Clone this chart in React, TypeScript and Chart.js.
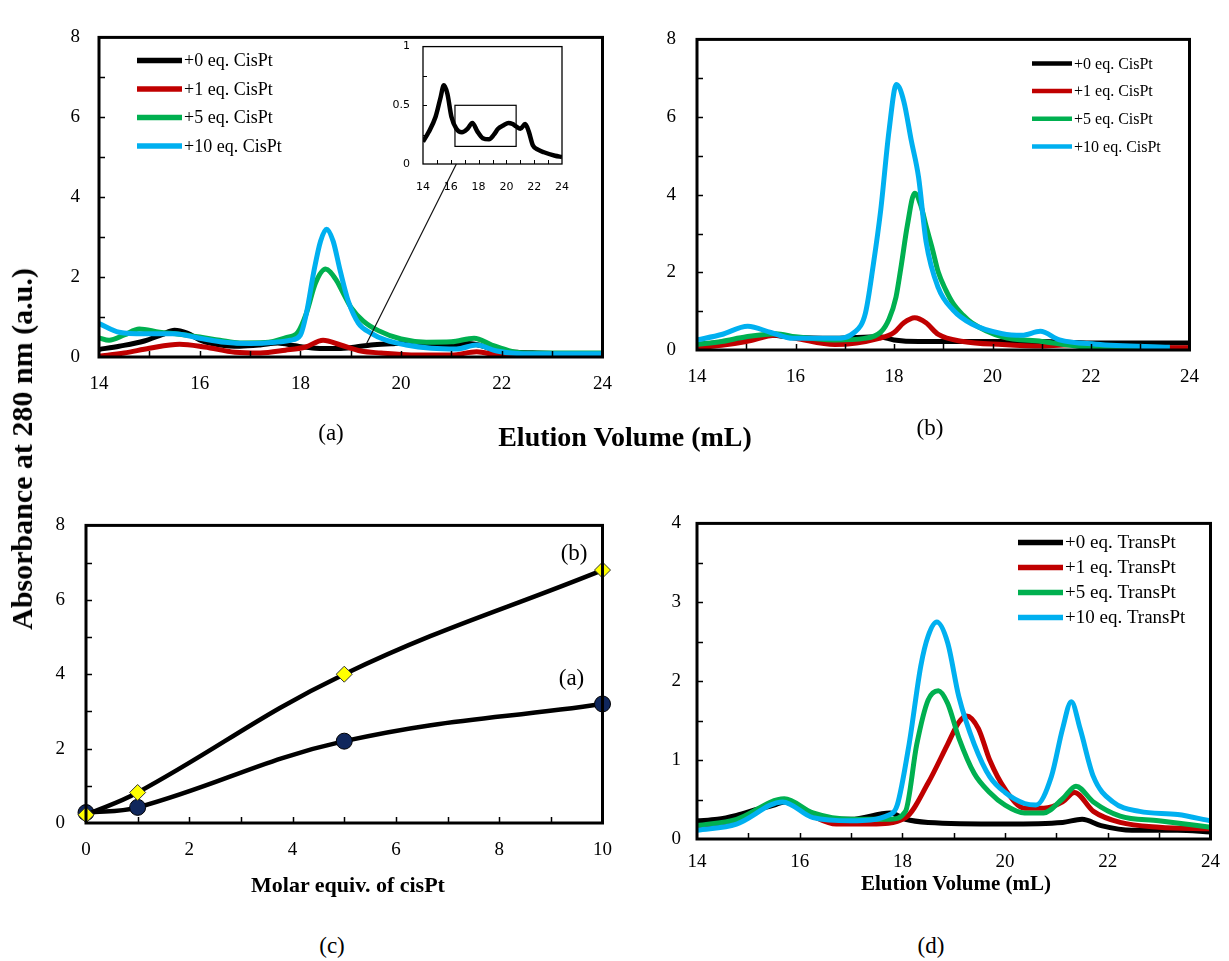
import React, { useEffect, useRef } from 'react';
import { Chart, registerables } from 'chart.js';

Chart.register(...registerables);

// ---------------- data ----------------
const COLORS = ['#000000', '#c00000', '#00b050', '#00b0f0'];
const CIS_LABELS = ['+0 eq. CisPt', '+1 eq. CisPt', '+5 eq. CisPt', '+10 eq. CisPt'];
const TRANS_LABELS = ['+0 eq. TransPt', '+1 eq. TransPt', '+5 eq. TransPt', '+10 eq. TransPt'];

// Panel (a) – +0 eq. trace is also the inset trace
const A0_X = [14, 14.4, 14.9, 15.25, 15.5, 15.75, 16.05, 16.4, 16.8, 17.2, 17.55, 17.9, 18.3, 18.75, 19.1, 19.4, 19.8, 20.15, 20.45, 20.7, 21.0, 21.35, 21.6, 21.9, 22.3, 22.7, 23.5, 24];
const A0_Y = [0.19, 0.27, 0.4, 0.56, 0.67, 0.6, 0.4, 0.3, 0.27, 0.3, 0.35, 0.28, 0.22, 0.21, 0.25, 0.3, 0.33, 0.35, 0.34, 0.32, 0.3, 0.34, 0.28, 0.16, 0.12, 0.1, 0.07, 0.06];
const A1_X = [14, 14.5, 15.0, 15.6, 16.1, 16.7, 17.2, 17.7, 18.1, 18.45, 18.8, 19.2, 19.6, 20.2, 21.0, 21.5, 21.9, 22.4, 24];
const A1_Y = [0.02, 0.1, 0.22, 0.32, 0.25, 0.12, 0.1, 0.17, 0.25, 0.42, 0.3, 0.15, 0.1, 0.05, 0.05, 0.13, 0.05, 0.01, 0.01];
const A5_X = [14, 14.2, 14.5, 14.8, 15.2, 15.6, 16.0, 16.4, 16.8, 17.3, 17.7, 17.95, 18.12, 18.3, 18.5, 18.7, 18.85, 19.0, 19.25, 19.55, 20.0, 20.5, 21.0, 21.45, 21.8, 22.2, 22.6, 24];
const A5_Y = [0.48, 0.42, 0.55, 0.7, 0.62, 0.57, 0.5, 0.42, 0.35, 0.36, 0.48, 0.62, 1.1, 1.85, 2.2, 1.95, 1.6, 1.25, 0.9, 0.66, 0.45, 0.37, 0.38, 0.47, 0.3, 0.14, 0.1, 0.1];
const A10_X = [14, 14.4, 14.9, 15.5, 16.0, 16.5, 17.0, 17.5, 17.8, 18.0, 18.12, 18.27, 18.4, 18.52, 18.65, 18.79, 18.95, 19.15, 19.4, 19.7, 20.1, 20.6, 21.1, 21.5, 21.9, 22.3, 23.0, 24];
const A10_Y = [0.84, 0.62, 0.58, 0.58, 0.47, 0.37, 0.34, 0.37, 0.42, 0.55, 1.1, 2.16, 2.9, 3.2, 2.9, 2.16, 1.4, 0.85, 0.6, 0.42, 0.3, 0.22, 0.2, 0.3, 0.15, 0.09, 0.08, 0.08];

// Panel (b)
const B0_X = [14, 14.5, 15.0, 15.5, 16.0, 16.8, 17.7, 18.0, 18.5, 19.5, 21.0, 22.0, 24];
const B0_Y = [0.14, 0.2, 0.3, 0.38, 0.32, 0.3, 0.34, 0.26, 0.22, 0.22, 0.22, 0.18, 0.18];
const B1_X = [14, 14.5, 15.0, 15.6, 16.0, 16.8, 17.7, 18.0, 18.2, 18.42, 18.65, 18.9, 19.4, 20.2, 21.0, 21.7, 22.5, 24];
const B1_Y = [0.06, 0.12, 0.22, 0.38, 0.3, 0.14, 0.3, 0.45, 0.7, 0.83, 0.7, 0.4, 0.22, 0.14, 0.1, 0.14, 0.06, 0.06];
const B5_X = [14, 14.5, 15.0, 15.6, 16.0, 16.8, 17.4, 17.73, 17.9, 18.04, 18.15, 18.27, 18.42, 18.55, 18.65, 18.78, 18.9, 19.05, 19.2, 19.4, 19.58, 20.2, 21.0, 21.7, 22.5, 23.6];
const B5_Y = [0.14, 0.22, 0.34, 0.42, 0.34, 0.26, 0.3, 0.46, 0.8, 1.36, 2.2, 3.2, 4.04, 3.7, 3.2, 2.6, 2.0, 1.55, 1.2, 0.9, 0.7, 0.34, 0.22, 0.1, 0.03, 0.03];
const B10_X = [14, 14.5, 15.03, 15.5, 15.95, 16.8, 17.2, 17.42, 17.58, 17.73, 17.9, 18.05, 18.2, 18.35, 18.5, 18.65, 18.9, 19.2, 19.58, 20.2, 20.6, 20.97, 21.36, 22.1, 23.6];
const B10_Y = [0.26, 0.4, 0.61, 0.45, 0.3, 0.3, 0.46, 0.95, 2.2, 3.6, 5.66, 6.84, 6.4, 5.4, 4.44, 2.8, 1.6, 1.03, 0.67, 0.42, 0.38, 0.48, 0.26, 0.15, 0.07];

// Panel (c)
const C_X = [0, 1, 5, 10];
const C_A = [0.28, 0.42, 2.2, 3.2];
const C_B = [0.22, 0.82, 4.0, 6.8];
const C_NOTE_TEXT = ['(b)', '(a)'];
const C_NOTE_X = [9.45, 9.4];
const C_NOTE_Y = [7.24, 3.86];

// Panel (d)
const D0_X = [14, 14.4, 14.77, 15.2, 15.5, 15.7, 16.26, 17.0, 17.76, 18.06, 18.5, 20.0, 21.12, 21.5, 21.87, 22.47, 23.36, 24];
const D0_Y = [0.23, 0.25, 0.3, 0.38, 0.43, 0.47, 0.29, 0.25, 0.33, 0.25, 0.21, 0.19, 0.21, 0.25, 0.17, 0.11, 0.11, 0.09];
const D1_X = [14, 14.77, 15.7, 16.26, 16.71, 17.39, 18.06, 18.5, 18.88, 19.1, 19.25, 19.48, 19.7, 20.0, 20.38, 20.75, 21.12, 21.35, 21.72, 22.24, 23.0, 24];
const D1_Y = [0.13, 0.22, 0.49, 0.29, 0.19, 0.19, 0.27, 0.71, 1.2, 1.48, 1.56, 1.4, 1.0, 0.63, 0.39, 0.39, 0.47, 0.59, 0.35, 0.21, 0.15, 0.13];
const D5_X = [14, 14.77, 15.7, 16.26, 17.0, 17.76, 18.06, 18.28, 18.5, 18.7, 18.88, 19.1, 19.4, 19.7, 20.0, 20.38, 20.75, 21.12, 21.38, 21.72, 22.24, 22.99, 24];
const D5_Y = [0.17, 0.25, 0.51, 0.33, 0.25, 0.25, 0.35, 1.2, 1.76, 1.88, 1.72, 1.28, 0.83, 0.59, 0.43, 0.33, 0.33, 0.51, 0.67, 0.47, 0.29, 0.23, 0.15];
const D10_X = [14, 14.77, 15.67, 16.26, 17.0, 17.76, 17.9, 18.13, 18.36, 18.5, 18.67, 18.88, 19.1, 19.4, 19.7, 20.0, 20.38, 20.6, 20.9, 21.12, 21.29, 21.46, 21.72, 22.1, 22.62, 23.36, 24];
const D10_Y = [0.11, 0.19, 0.47, 0.27, 0.23, 0.31, 0.43, 1.2, 2.2, 2.57, 2.75, 2.49, 1.8, 1.2, 0.79, 0.59, 0.45, 0.43, 0.79, 1.4, 1.74, 1.4, 0.79, 0.47, 0.35, 0.31, 0.23];

// Inset annotations
const INSET_RECT_X = [16.3, 20.7];
const INSET_RECT_Y = [0.15, 0.5];
const CONNECTOR_FROM = [19.3, 0.3];
const CONNECTOR_TO = [16.4, 0];

// ---------------- layout (styles) ----------------
type Box = { L: number; T: number; R: number; B: number };
const BOX_A: Box = { L: 99, T: 21, R: 612, B: 357 };
const BOX_B: Box = { L: 697, T: 21, R: 1199, B: 350 };
const BOX_C: Box = { L: 86, T: 507, R: 612, B: 823 };
const BOX_D: Box = { L: 697, T: 510, R: 1216, B: 839 };
const BOX_IN: Box = { L: 423, T: 35, R: 578, B: 164 };

const SERIF = "'Liberation Serif', 'Times New Roman', serif";

type Pad = { l: number; t: number; r: number; b: number };
const PAD_MAIN: Pad = { l: 80, t: 14, r: 16, b: 70 };
const PAD_INSET: Pad = { l: 45, t: 8, r: 8, b: 35 };

function rectOf(b: Box, p: Pad) {
  return { left: b.L - p.l, top: b.T - p.t, width: b.R - b.L + p.l + p.r, height: b.B - b.T + p.t + p.b };
}

function pts(xs: number[], ys: number[]) {
  return xs.map((x, i) => ({ x, y: ys[i] }));
}

function series(xs: number[], ys: number[], idx: number, labels: string[], width = 5) {
  return {
    label: labels[idx],
    data: pts(xs, ys),
    borderColor: COLORS[idx],
    backgroundColor: COLORS[idx],
    borderWidth: width,
    pointRadius: 0,
    tension: 0.4,
    cubicInterpolationMode: 'monotone',
    fill: false,
    order: 3 - idx,
  };
}

function framePlugin(cfg: { lw: number; tickLen: number; xMinor: number; yMinor: number; tickW: number }) {
  return {
    id: 'frame',
    afterDatasetsDraw(chart: any) {
      const { ctx, chartArea: a, scales } = chart;
      ctx.save();
      ctx.strokeStyle = '#000';
      ctx.lineWidth = cfg.lw;
      ctx.strokeRect(a.left, a.top, a.right - a.left, a.bottom - a.top);
      ctx.lineWidth = cfg.tickW;
      ctx.beginPath();
      const xs = scales.x, ys = scales.y;
      for (let v = xs.min + cfg.xMinor; v < xs.max - 1e-9; v += cfg.xMinor) {
        const p = Math.round(xs.getPixelForValue(v)) + 0.5;
        ctx.moveTo(p, a.bottom);
        ctx.lineTo(p, a.bottom - cfg.tickLen);
      }
      for (let v = ys.min + cfg.yMinor; v < ys.max - 1e-9; v += cfg.yMinor) {
        const p = Math.round(ys.getPixelForValue(v)) + 0.5;
        ctx.moveTo(a.left, p);
        ctx.lineTo(a.left + cfg.tickLen, p);
      }
      ctx.stroke();
      ctx.restore();
    },
  };
}

function legendPlugin(cfg: { x1: number; x2: number; tx: number; y0: number; step: number; font: string; lw: number }) {
  return {
    id: 'customLegend',
    afterDraw(chart: any) {
      const { ctx, chartArea: a } = chart;
      ctx.save();
      chart.data.datasets.forEach((ds: any, i: number) => {
        const y = a.top + cfg.y0 + i * cfg.step;
        ctx.strokeStyle = ds.borderColor;
        ctx.lineWidth = cfg.lw;
        ctx.lineCap = 'butt';
        ctx.beginPath();
        ctx.moveTo(a.left + cfg.x1, y);
        ctx.lineTo(a.left + cfg.x2, y);
        ctx.stroke();
        ctx.fillStyle = '#000';
        ctx.font = cfg.font;
        ctx.textBaseline = 'middle';
        ctx.textAlign = 'left';
        ctx.fillText(ds.label, a.left + cfg.tx, y + 1);
      });
      ctx.restore();
    },
  };
}

function axisOptions(o: {
  xMin: number; xMax: number; xStep: number; yMin: number; yMax: number; yStep: number;
  pad: Pad; font: any; xPad: number; yPad: number;
}) {
  const fmt = (v: any) => String(Math.round(Number(v) * 100) / 100);
  return {
    responsive: false,
    maintainAspectRatio: false,
    animation: false,
    events: [],
    layout: { padding: { left: 0, top: o.pad.t, right: o.pad.r, bottom: 0 } },
    plugins: { legend: { display: false }, tooltip: { enabled: false }, title: { display: false } },
    scales: {
      x: {
        type: 'linear',
        min: o.xMin,
        max: o.xMax,
        grid: { display: false, drawTicks: false },
        border: { display: false },
        ticks: { stepSize: o.xStep, autoSkip: false, maxRotation: 0, minRotation: 0, color: '#000', font: o.font, padding: o.xPad, callback: fmt },
        afterFit: (s: any) => { s.height = o.pad.b; },
      },
      y: {
        type: 'linear',
        min: o.yMin,
        max: o.yMax,
        grid: { display: false, drawTicks: false },
        border: { display: false },
        ticks: { stepSize: o.yStep, autoSkip: false, color: '#000', font: o.font, padding: o.yPad, callback: fmt },
        afterFit: (s: any) => { s.width = o.pad.l; },
      },
    },
  };
}

const TICK_FONT = { family: SERIF, size: 19 };

export default function App() {
  const refA = useRef<HTMLCanvasElement>(null);
  const refIn = useRef<HTMLCanvasElement>(null);
  const refB = useRef<HTMLCanvasElement>(null);
  const refC = useRef<HTMLCanvasElement>(null);
  const refD = useRef<HTMLCanvasElement>(null);

  const rA = rectOf(BOX_A, PAD_MAIN);
  const rB = rectOf(BOX_B, PAD_MAIN);
  const rC = rectOf(BOX_C, PAD_MAIN);
  const rD = rectOf(BOX_D, PAD_MAIN);
  const rIn = rectOf(BOX_IN, PAD_INSET);

  useEffect(() => {
    const charts: Chart[] = [];

    // ---------- inset ----------
    const insetRect = {
      id: 'insetRect',
      afterDatasetsDraw(chart: any) {
        const { ctx, scales } = chart;
        const x0 = scales.x.getPixelForValue(INSET_RECT_X[0]);
        const x1 = scales.x.getPixelForValue(INSET_RECT_X[1]);
        const y0 = scales.y.getPixelForValue(INSET_RECT_Y[0]);
        const y1 = scales.y.getPixelForValue(INSET_RECT_Y[1]);
        ctx.save();
        ctx.strokeStyle = '#000';
        ctx.lineWidth = 1.2;
        ctx.strokeRect(x0, y1, x1 - x0, y0 - y1);
        ctx.restore();
      },
    };
    const inset = new Chart(refIn.current as HTMLCanvasElement, {
      type: 'line',
      data: { datasets: [series(A0_X, A0_Y, 0, CIS_LABELS, 4.5)] as any },
      options: axisOptions({
        xMin: 14, xMax: 24, xStep: 2, yMin: 0, yMax: 1, yStep: 0.5,
        pad: PAD_INSET, font: { family: "'DejaVu Sans', sans-serif", size: 11 }, xPad: 17, yPad: 13,
      }) as any,
      plugins: [framePlugin({ lw: 1.3, tickLen: 4, xMinor: 1, yMinor: 0.25, tickW: 1 }), insetRect],
    });

    // ---------- panel (a) ----------
    const connector = {
      id: 'connector',
      afterDatasetsDraw(chart: any) {
        const { ctx, scales } = chart;
        const x0 = scales.x.getPixelForValue(CONNECTOR_FROM[0]);
        const y0 = scales.y.getPixelForValue(CONNECTOR_FROM[1]);
        const x1 = inset.scales.x.getPixelForValue(CONNECTOR_TO[0]) + rIn.left - rA.left;
        const y1 = inset.scales.y.getPixelForValue(CONNECTOR_TO[1]) + rIn.top - rA.top;
        ctx.save();
        ctx.strokeStyle = '#111';
        ctx.lineWidth = 1.2;
        ctx.beginPath();
        ctx.moveTo(x0, y0);
        ctx.lineTo(x1, y1);
        ctx.stroke();
        ctx.restore();
      },
    };
    charts.push(new Chart(refA.current as HTMLCanvasElement, {
      type: 'line',
      data: {
        datasets: [
          series(A0_X, A0_Y, 0, CIS_LABELS),
          series(A1_X, A1_Y, 1, CIS_LABELS),
          series(A5_X, A5_Y, 2, CIS_LABELS),
          series(A10_X, A10_Y, 3, CIS_LABELS),
        ] as any,
      },
      options: axisOptions({
        xMin: 14, xMax: 24, xStep: 2, yMin: 0, yMax: 8, yStep: 2,
        pad: PAD_MAIN, font: TICK_FONT, xPad: 16, yPad: 19,
      }) as any,
      plugins: [
        framePlugin({ lw: 3, tickLen: 6, xMinor: 1, yMinor: 1, tickW: 1.5 }),
        connector,
        legendPlugin({ x1: 38, x2: 83, tx: 85, y0: 23, step: 28.5, font: `18px ${SERIF}`, lw: 5.5 }),
      ],
    }));
    charts.push(inset);

    // ---------- panel (b) ----------
    charts.push(new Chart(refB.current as HTMLCanvasElement, {
      type: 'line',
      data: {
        datasets: [
          series(B0_X, B0_Y, 0, CIS_LABELS),
          series(B1_X, B1_Y, 1, CIS_LABELS),
          series(B5_X, B5_Y, 2, CIS_LABELS),
          series(B10_X, B10_Y, 3, CIS_LABELS),
        ] as any,
      },
      options: axisOptions({
        xMin: 14, xMax: 24, xStep: 2, yMin: 0, yMax: 8, yStep: 2,
        pad: PAD_MAIN, font: TICK_FONT, xPad: 16, yPad: 21,
      }) as any,
      plugins: [
        framePlugin({ lw: 3, tickLen: 6, xMinor: 1, yMinor: 1, tickW: 1.5 }),
        legendPlugin({ x1: 335, x2: 375, tx: 377, y0: 24, step: 27.7, font: `16px ${SERIF}`, lw: 4.5 }),
      ],
    }));

    // ---------- panel (c) ----------
    const notes = {
      id: 'notes',
      afterDatasetsDraw(chart: any) {
        const { ctx, scales } = chart;
        ctx.save();
        ctx.fillStyle = '#000';
        ctx.font = `23px ${SERIF}`;
        ctx.textAlign = 'center';
        ctx.textBaseline = 'middle';
        C_NOTE_TEXT.forEach((t, i) => {
          ctx.fillText(t, scales.x.getPixelForValue(C_NOTE_X[i]), scales.y.getPixelForValue(C_NOTE_Y[i]));
        });
        ctx.restore();
      },
    };
    const cOpts: any = axisOptions({
      xMin: 0, xMax: 10, xStep: 2, yMin: 0, yMax: 8, yStep: 2,
      pad: PAD_MAIN, font: TICK_FONT, xPad: 16, yPad: 21,
    });
    charts.push(new Chart(refC.current as HTMLCanvasElement, {
      type: 'line',
      data: {
        datasets: [
          {
            label: '(a)', data: pts(C_X, C_A), borderColor: '#000', borderWidth: 4.5, tension: 0.4,
            pointStyle: 'circle', pointRadius: 8, pointBackgroundColor: '#10275c', pointBorderColor: '#000',
            pointBorderWidth: 1, clip: false, order: 1,
          },
          {
            label: '(b)', data: pts(C_X, C_B), borderColor: '#000', borderWidth: 4.5, tension: 0.4,
            pointStyle: 'rectRot', pointRadius: 8, pointBackgroundColor: '#ffff00', pointBorderColor: '#333',
            pointBorderWidth: 1, clip: false, order: 0,
          },
        ] as any,
      },
      options: cOpts,
      plugins: [framePlugin({ lw: 3, tickLen: 6, xMinor: 1, yMinor: 1, tickW: 1.5 }), notes],
    }));

    // ---------- panel (d) ----------
    charts.push(new Chart(refD.current as HTMLCanvasElement, {
      type: 'line',
      data: {
        datasets: [
          series(D0_X, D0_Y, 0, TRANS_LABELS),
          series(D1_X, D1_Y, 1, TRANS_LABELS),
          series(D5_X, D5_Y, 2, TRANS_LABELS),
          series(D10_X, D10_Y, 3, TRANS_LABELS),
        ] as any,
      },
      options: axisOptions({
        xMin: 14, xMax: 24, xStep: 2, yMin: 0, yMax: 4, yStep: 1,
        pad: PAD_MAIN, font: TICK_FONT, xPad: 12, yPad: 16,
      }) as any,
      plugins: [
        framePlugin({ lw: 3, tickLen: 6, xMinor: 1, yMinor: 0.5, tickW: 1.5 }),
        legendPlugin({ x1: 321, x2: 366, tx: 368, y0: 19, step: 25, font: `19px ${SERIF}`, lw: 5.5 }),
      ],
    }));

    return () => charts.forEach((c) => c.destroy());
  }, []);

  const cv = (r: { left: number; top: number; width: number; height: number }) => ({
    position: 'absolute' as const, left: r.left, top: r.top, width: r.width, height: r.height,
  });
  const txt = (x: number, y: number, size: number, bold: boolean, rotate = false): React.CSSProperties => ({
    position: 'absolute', left: x, top: y, transform: `translate(-50%, -50%)${rotate ? ' rotate(-90deg)' : ''}`,
    fontFamily: SERIF, fontSize: size, fontWeight: bold ? 'bold' : 'normal', whiteSpace: 'nowrap', color: '#000', lineHeight: 1,
  });

  return (
    <div style={{ position: 'absolute', left: 0, top: 0, width: 1229, height: 961, background: '#fff', overflow: 'hidden' }}>
      <canvas ref={refA} width={rA.width} height={rA.height} style={cv(rA)} />
      <canvas ref={refIn} width={rIn.width} height={rIn.height} style={cv(rIn)} />
      <canvas ref={refB} width={rB.width} height={rB.height} style={cv(rB)} />
      <canvas ref={refC} width={rC.width} height={rC.height} style={cv(rC)} />
      <canvas ref={refD} width={rD.width} height={rD.height} style={cv(rD)} />
      <div style={txt(22, 449, 30, true, true)}>Absorbance at 280 nm (a.u.)</div>
      <div style={txt(625, 437, 28, true)}>Elution Volume (mL)</div>
      <div style={txt(331, 432, 23, false)}>(a)</div>
      <div style={txt(930, 427, 23, false)}>(b)</div>
      <div style={txt(348, 885, 22, true)}>Molar equiv. of cisPt</div>
      <div style={txt(956, 883, 21, true)}>Elution Volume (mL)</div>
      <div style={txt(332, 945, 23, false)}>(c)</div>
      <div style={txt(931, 945, 23, false)}>(d)</div>
    </div>
  );
}
